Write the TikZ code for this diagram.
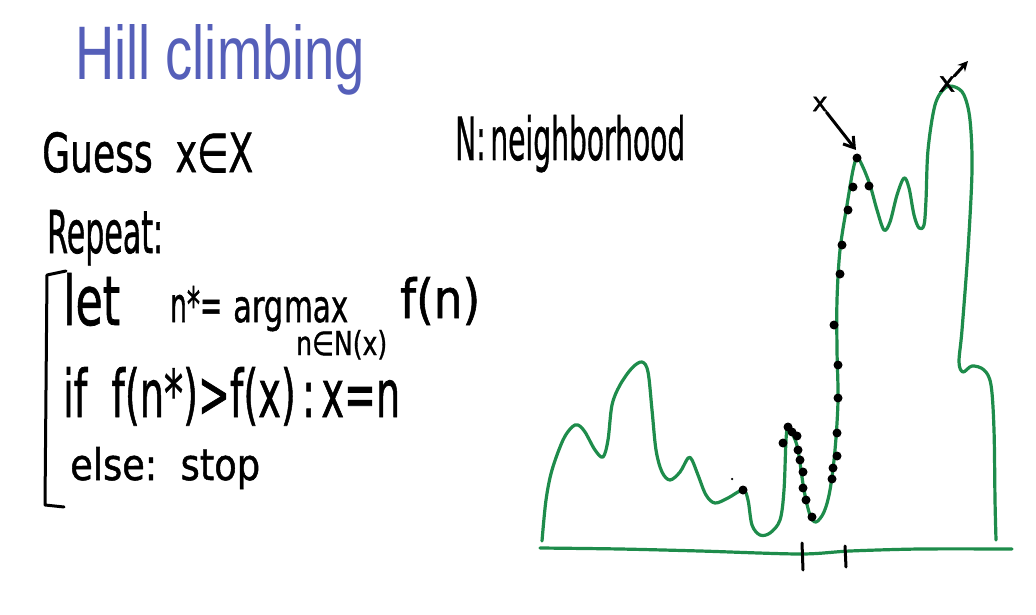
\documentclass[tikz,border=0pt]{standalone}
\usepackage{fontspec}
\setmainfont{DejaVu Sans}[FakeBold=1.2]
\newfontfamily\titlefont{Liberation Sans}
\usetikzlibrary{arrows.meta}
\definecolor{hillgreen}{RGB}{30,140,75}
\definecolor{titleblue}{RGB}{85,95,185}
\newcommand{\hwbox}[3]{\resizebox{#1pt}{#2pt}{#3}}
\begin{document}
\begin{tikzpicture}[x=1pt,y=-1pt,
  hw/.style={inner sep=0pt, anchor=base west, font=\fontsize{40}{48}\selectfont},
  curve/.style={draw=hillgreen, line width=3.2pt, line cap=round, line join=round},
  ink/.style={draw=black, line width=3pt, line cap=round, line join=round},
  dotm/.style={circle, fill=black, inner sep=0pt, minimum size=9pt},
  tinydot/.style={circle, fill=black, inner sep=0pt, minimum size=2.5pt}]
\useasboundingbox[fill=white] (0,0) rectangle (1036,615);

% title
\node[hw, text=titleblue, font=\titlefont\fontsize{40}{48}\selectfont] (title) at (75,80) {\hwbox{290}{55}{Hill climbing}};

% left text
\node[hw] (guess) at (42,172) {\hwbox{211}{40}{Guess\ \ x∈X}};
\node[hw] (nbh) at (455,160) {\hwbox{230}{45}{N:\,neighborhood}};
\node[hw] (repeat) at (47,253) {\hwbox{116}{43}{Repeat:}};
\node[hw] (let) at (63,325) {\hwbox{57}{52}{let}};
\node[hw] (nstar) at (170,322) {\hwbox{52}{36}{n*=}};
\node[hw] (arg) at (233,322) {\hwbox{50}{25}{arg}};
\node[hw] (max) at (284,322) {\hwbox{64}{25}{max}};
\node[hw] (sub) at (296,355) {\hwbox{91}{25}{n∈N(x)}};
\node[hw] (fn) at (400,318) {\hwbox{80}{41}{f(n)}};
\node[hw] (ifline) at (63,417) {\hwbox{337}{50}{if\ \ f(n*)>f(x)\,:\,x=n}};
\node[hw] (elseline) at (70,480) {\hwbox{190}{33}{else:\ \ stop}};

% bracket
\coordinate (b1) at (66,271);
\coordinate (b2) at (47,275);
\coordinate (b3) at (45,505);
\coordinate (b4) at (64,507);
\draw[ink] (b1) -- (b2) -- (b3) -- (b4);

% landscape
\draw[curve] plot[smooth, tension=0.55] coordinates {
 (542,541) (546,500) (552,470) (563,440) (572,427) (578,425) (585,432) (595,450)
 (603,457) (608,440) (612,405) (620,385) (632,368) (642,362) (648,372) (652,410)
 (656,450) (662,472) (670,480) (680,472) (688,458) (692,460) (698,475) (706,495)
 (715,503) (728,498) (743,490) (748,500) (752,525) (760,535) (770,533) (780,520)
 (784,490) (786,440) (788,427) (793,435) (798,450) (804,490) (810,515) (816,522)
 (824,512) (830,490) (835,450) (838,400) (837,350) (837,300) (840,250) (847,205)
 (853,170) (857,158) (862,165) (870,185) (877,210) (884,230) (890,222) (897,195)
 (904,178) (909,188) (914,215) (919,228) (924,225) (926,200) (928,150) (935,105)
 (945,88) (955,87) (964,95) (970,120) (972,170) (968,250) (962,330) (959,362)
 (963,372) (972,366) (984,370) (991,385) (994,430) (995,500) (996,540)};
% axis
\draw[curve] plot[smooth, tension=0.5] coordinates {
 (540,548) (620,549) (700,551) (800,554) (850,551) (920,549) (1012,549)};
\coordinate (t1a) at (802,543); \coordinate (t1b) at (803,570);
\coordinate (t2a) at (845,546); \coordinate (t2b) at (846,567);
\draw[ink] (t1a) -- (t1b);
\draw[ink] (t2a) -- (t2b);

% dots
\foreach \p [count=\i] in {(857,158),(853,187),(869,186),(848,210),(842,245),(840,274),
  (834,325),(838,365),(838,398),(837,433),(837,456),(833,468),(832,479),
  (788,427),(792,432),(797,436),(783,443),(798,450),(800,460),(803,472),(803,488),
  (806,500),(812,517),(743,490)}
  \node[dotm] (d\i) at \p {};
\node[tinydot] (tiny) at (732,479) {};

% x marker with arrow
\node[inner sep=1pt, font=\fontsize{26}{28}\selectfont] (xlab) at (820,104) {x};
\coordinate (xtip) at (856,150);
\draw[ink, -{Straight Barb[length=10pt,width=13pt]}] (xlab) -- (xtip);

% x* at the top
\node[inner sep=0pt, font=\fontsize{28}{30}\selectfont] (xs) at (947,84) {x};
\coordinate (xstip) at (968,61);
\draw[ink, -{Stealth[length=10pt,width=10pt]}] (xs) -- (xstip);
\end{tikzpicture}
\end{document}
